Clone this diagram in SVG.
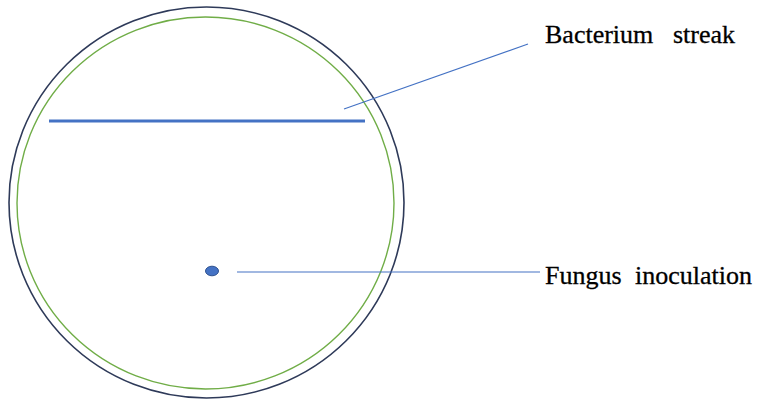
<svg xmlns="http://www.w3.org/2000/svg" width="758" height="401" viewBox="0 0 758 401">
<style>
.lbl{font-family:"Liberation Serif","Times New Roman",serif;font-size:26px;fill:#000;stroke:#000;stroke-width:0.3}
.call{stroke:#4472C4;stroke-width:1.2;fill:none}
</style>
<rect width="758" height="401" fill="#fff"/>
<g id="plate">
<ellipse cx="206.5" cy="202.5" rx="197.5" ry="195.5" fill="none" stroke="#2E3A59" stroke-width="1.6"/>
<ellipse cx="205.5" cy="203" rx="188.5" ry="186" fill="none" stroke="#70AD47" stroke-width="1.4"/>
</g>
<g id="streak">
<line x1="49" y1="121" x2="365" y2="121" stroke="#4472C4" stroke-width="3.2"/>
</g>
<g id="fungus">
<ellipse cx="212" cy="271" rx="6.5" ry="4.8" fill="#4472C4" stroke="#2F528F" stroke-width="1"/>
</g>
<g id="connectors">
<line class="call" x1="344" y1="109" x2="528" y2="44"/>
<line class="call" x1="237" y1="272" x2="540" y2="272"/>
</g>
<g id="label-bacterium">
<text class="lbl" y="43"><tspan x="545">Bacterium</tspan><tspan x="673">streak</tspan></text>
</g>
<g id="label-fungus">
<text class="lbl" y="284"><tspan x="545">Fungus</tspan><tspan x="635">inoculation</tspan></text>
</g>
</svg>
